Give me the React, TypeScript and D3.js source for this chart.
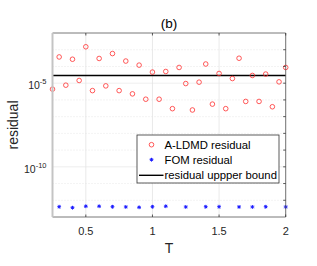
import React from 'react';
import * as d3 from 'd3';

// A-LDMD residual, sampled at every T
const tA = [0.25, 0.3, 0.35, 0.4, 0.45, 0.5, 0.55, 0.6, 0.65, 0.7, 0.75, 0.8, 0.85, 0.9, 0.95, 1.0, 1.05, 1.1,
  1.15, 1.2, 1.25, 1.3, 1.35, 1.4, 1.45, 1.5, 1.55, 1.6, 1.65, 1.7, 1.75, 1.8, 1.85, 1.9, 1.95, 2.0];
const aldmdResidual = [4.4e-6, 3.7e-4, 7.6e-6, 2.7e-4, 1.45e-5, 1.5e-3, 3.6e-6, 3.0e-4, 6.9e-6, 5.9e-4, 3.6e-6, 2.1e-4,
  2.3e-6, 1.2e-4, 1.1e-6, 4.6e-5, 1.1e-6, 5.0e-5, 3.0e-7, 8.7e-5, 9.5e-6, 2.5e-7, 1.15e-5, 1.4e-4,
  5.6e-7, 3.8e-5, 3.0e-7, 1.9e-5, 3.1e-4, 8.1e-7, 2.9e-5, 8.1e-7, 3.5e-5, 3.9e-7, 1.2e-5, 8.7e-5];

// FOM residual, only at some T
const tFom = [0.3, 0.4, 0.5, 0.6, 0.7, 0.8, 0.9, 1.0, 1.1, 1.25, 1.4, 1.5, 1.65, 1.75, 1.85, 2.0];
const fomResidual = [4.1e-13, 3.6e-13, 4.4e-13, 4.4e-13, 4.1e-13, 4.0e-13, 3.8e-13, 4.1e-13, 4.4e-13,
  4.0e-13, 4.1e-13, 4.1e-13, 4.0e-13, 4.0e-13, 4.1e-13, 4.0e-13];

const upperBound = 2.9e-5;

const xTicks = [0.5, 1, 1.5, 2];
const yLabelExp = [-5, -10];
const yGridExp = [-12, -11, -10, -9, -8, -7, -6, -5, -4, -3];

const font = 'Liberation Sans, Arial, Helvetica, sans-serif';

const star = (x: number, y: number, r: number) => {
  const d = r * 0.707;
  return `M${x - r},${y}L${x + r},${y}M${x},${y - r}L${x},${y + r}` +
    `M${x - d},${y - d}L${x + d},${y + d}M${x - d},${y + d}L${x + d},${y - d}`;
};

export default function App() {
  const left = 52.5, right = 285.7, top = 33, bottom = 217;

  const x = d3.scaleLinear().domain([0.25, 2]).range([left, right]);
  const y = d3.scaleLog().domain([1e-13, 1e-2]).range([bottom, top]);

  const legX = 137, legY = 135, legW = 142, legH = 48;

  return (
    <svg width={317} height={266} style={{ position: 'absolute', left: 0, top: 0, background: '#fff' }}>
      <rect x={0} y={0} width={317} height={266} fill="#fff" />
      <rect x={left} y={top} width={right - left} height={bottom - top} fill="#fff" />

      {/* grid */}
      {yGridExp.map((e) => (
        <line key={'gy' + e} x1={left} x2={right} y1={y(Math.pow(10, e))} y2={y(Math.pow(10, e))}
          stroke={yLabelExp.includes(e) ? '#e3e3e3' : '#d6d6d6'}
          strokeWidth={0.6} strokeDasharray={yLabelExp.includes(e) ? undefined : '1,2'} />
      ))}
      {xTicks.map((t) => (
        <line key={'gx' + t} x1={x(t)} x2={x(t)} y1={top} y2={bottom} stroke="#e3e3e3" strokeWidth={0.8} />
      ))}

      {/* upper bound */}
      <line x1={left} x2={right} y1={y(upperBound)} y2={y(upperBound)} stroke="#000" strokeWidth={1.6} />

      {/* A-LDMD residual */}
      {tA.map((t, i) => (
        <circle key={'a' + i} cx={x(t)} cy={y(aldmdResidual[i])} r={2.3} fill="none" stroke="#ff3030" strokeWidth={0.8} />
      ))}

      {/* FOM residual */}
      {tFom.map((t, i) => (
        <path key={'f' + i} d={star(x(t), y(fomResidual[i]), 1.9)} stroke="#1a1aff" strokeWidth={1} />
      ))}

      {/* axes box */}
      <line x1={left} x2={right} y1={top} y2={top} stroke="#555" strokeWidth={0.8} />
      <line x1={right} x2={right} y1={top} y2={bottom} stroke="#555" strokeWidth={0.8} />
      <line x1={left} x2={right} y1={bottom} y2={bottom} stroke="#555" strokeWidth={0.8} />
      <line x1={left} x2={left} y1={top} y2={bottom} stroke="#c4c4c4" strokeWidth={2} />

      {xTicks.map((t) => (
        <g key={'xt' + t}>
          <line x1={x(t)} x2={x(t)} y1={bottom} y2={bottom - 2.5} stroke="#333" strokeWidth={0.8} />
          <line x1={x(t)} x2={x(t)} y1={top} y2={top + 2.5} stroke="#333" strokeWidth={0.8} />
          <text x={x(t)} y={235} fontSize={11} fontFamily={font} textAnchor="middle" fill="#262626">{t}</text>
        </g>
      ))}
      {yGridExp.map((e) => (
        <line key={'yt' + e} x1={right} x2={right - 2.5} y1={y(Math.pow(10, e))} y2={y(Math.pow(10, e))}
          stroke="#333" strokeWidth={0.8} />
      ))}
      {yLabelExp.map((e) => (
        <text key={'yl' + e} x={46.5} y={y(Math.pow(10, e)) + 6} fontSize={10.5} fontFamily={font} textAnchor="end" fill="#262626">
          10<tspan fontSize={7.5} dy={-5}>{e}</tspan>
        </text>
      ))}

      {/* labels */}
      <text x={169} y={28} fontSize={13.5} fontFamily={font} textAnchor="middle" fill="#000">(b)</text>
      <text x={169} y={253} fontSize={14} fontFamily={font} textAnchor="middle" fill="#262626">T</text>
      <text transform={`translate(18,${(top + bottom) / 2}) rotate(-90)`} fontSize={14} fontFamily={font}
        textAnchor="middle" fill="#262626">residual</text>

      {/* legend */}
      <rect x={legX} y={legY} width={legW} height={legH} fill="#fff" stroke="#333" strokeWidth={0.8} />
      <circle cx={151.5} cy={144.7} r={2.3} fill="none" stroke="#ff3030" strokeWidth={0.8} />
      <text x={164.5} y={148.7} fontSize={11.3} fontFamily={font} fill="#000">A-LDMD residual</text>
      <path d={star(151.5, 159.7, 1.9)} stroke="#1a1aff" strokeWidth={1} />
      <text x={164.5} y={163.7} fontSize={11.3} fontFamily={font} fill="#000">FOM residual</text>
      <line x1={139} x2={163.5} y1={175.3} y2={175.3} stroke="#000" strokeWidth={1.4} />
      <text x={164.5} y={179.3} fontSize={11.3} fontFamily={font} fill="#000">residual uppper bound</text>
    </svg>
  );
}
